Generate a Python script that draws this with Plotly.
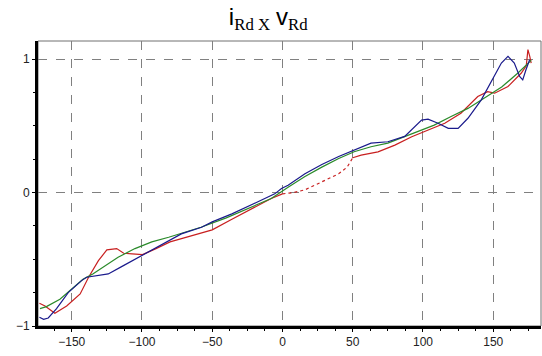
import plotly.graph_objects as go

# ---- data ----
red_x_a = [-173, -169, -162, -153.6, -144, -138, -131, -125, -118, -113, -107, -99.6, -90, -80, -70, -60, -50, -36, -20, -8, 0]
red_y_a = [-0.83, -0.85, -0.905, -0.85, -0.76, -0.635, -0.51, -0.43, -0.42, -0.455, -0.46, -0.465, -0.42, -0.37, -0.34, -0.31, -0.28, -0.2, -0.11, -0.045, -0.01]
red_x_dot = [0, 8, 16, 28, 40, 46, 50]
red_y_dot = [-0.01, 0.0, 0.02, 0.08, 0.14, 0.19, 0.26]
red_x_b = [50, 56, 68, 80, 92, 103.6, 115.5, 127, 139, 146, 151, 160.5, 170, 173.5, 174.7, 176, 177]
red_y_b = [0.26, 0.28, 0.305, 0.355, 0.418, 0.468, 0.519, 0.594, 0.719, 0.756, 0.744, 0.794, 0.895, 0.95, 1.07, 1.02, 0.97]

green_x = [-172.6, -168, -158.4, -149, -142, -135, -126, -117, -105, -93, -81, -58, -40, -20, -8, 4, 16, 28, 40, 51, 63, 75, 87, 108, 120, 132, 144, 156, 167.6, 174.7, 177]
green_y = [-0.87, -0.855, -0.8, -0.71, -0.65, -0.61, -0.55, -0.485, -0.42, -0.37, -0.335, -0.26, -0.19, -0.1, -0.045, 0.04, 0.12, 0.19, 0.255, 0.305, 0.343, 0.37, 0.42, 0.505, 0.57, 0.63, 0.71, 0.79, 0.895, 0.97, 0.99]

blue_x = [-173, -170, -166.7, -160.8, -152.5, -143, -139.4, -131, -124, -114.5, -100, -81, -72, -57.6, -50, -36, -20, -5.5, -0.7, 4, 16, 28, 40, 51, 63, 75, 87, 99, 103.6, 110.7, 118, 125, 132, 141.5, 148.7, 155.8, 160.5, 165, 168.8, 171, 173.3, 175.9]
blue_y = [-0.935, -0.95, -0.94, -0.87, -0.75, -0.66, -0.635, -0.62, -0.61, -0.555, -0.47, -0.36, -0.31, -0.26, -0.22, -0.16, -0.08, -0.01, 0.03, 0.055, 0.14, 0.21, 0.27, 0.32, 0.37, 0.38, 0.42, 0.543, 0.549, 0.519, 0.481, 0.481, 0.556, 0.694, 0.832, 0.97, 1.02, 0.97, 0.869, 0.844, 0.92, 0.995]

x_ticks = [-150, -100, -50, 0, 50, 100, 150]
y_ticks = [-1, 0, 1]

RED = "#c82020"
GREEN = "#2a8a2a"
BLUE = "#1a1a8c"

fig = go.Figure()
fig.add_trace(go.Scatter(x=red_x_a, y=red_y_a, mode="lines", line=dict(color=RED, width=1.2)))
fig.add_trace(go.Scatter(x=red_x_dot, y=red_y_dot, mode="lines", line=dict(color=RED, width=1.2, dash="dot")))
fig.add_trace(go.Scatter(x=red_x_b, y=red_y_b, mode="lines", line=dict(color=RED, width=1.2)))
fig.add_trace(go.Scatter(x=green_x, y=green_y, mode="lines", line=dict(color=GREEN, width=1.2)))
fig.add_trace(go.Scatter(x=blue_x, y=blue_y, mode="lines", line=dict(color=BLUE, width=1.2)))

fig.add_shape(type="rect", xref="paper", yref="paper", x0=0, y0=0, x1=1, y1=1,
              line=dict(color="#707070", width=1), layer="below")

title_text = ("<span style='font-family:Liberation Sans'>i</span><sub>Rd X</sub> "
              "<span style='font-family:Liberation Sans'>v</span><sub>Rd</sub>")

fig.update_layout(
    width=542, height=356,
    margin=dict(l=38, r=1, t=41, b=30),
    paper_bgcolor="white", plot_bgcolor="white",
    showlegend=False,
    title=dict(text=title_text, x=0.495, xanchor="center", xref="container",
               y=0.978, yanchor="top",
               font=dict(family="Liberation Serif", size=24, color="#000")),
    font=dict(family="Liberation Sans", size=12, color="#222"),
)
fig.update_xaxes(range=[-174, 184], tickvals=x_ticks, ticks="outside", ticklen=3, tickcolor="#000",
                 showline=True, linecolor="#000", linewidth=3,
                 showgrid=True, gridcolor="#808080", griddash="dash", gridwidth=1,
                 zeroline=False,
                 minor=dict(dtick=12.5, tick0=0, ticks="outside", ticklen=2, tickcolor="#000", showgrid=False))
fig.update_yaxes(range=[-1.0, 1.135], tickvals=y_ticks, ticks="outside", ticklen=3, tickcolor="#000",
                 showline=True, linecolor="#000", linewidth=3,
                 showgrid=True, gridcolor="#808080", griddash="dash", gridwidth=1,
                 zeroline=False,
                 minor=dict(dtick=0.25, tick0=0, ticks="outside", ticklen=2, tickcolor="#000", showgrid=False))

fig.write_html("out.html")
